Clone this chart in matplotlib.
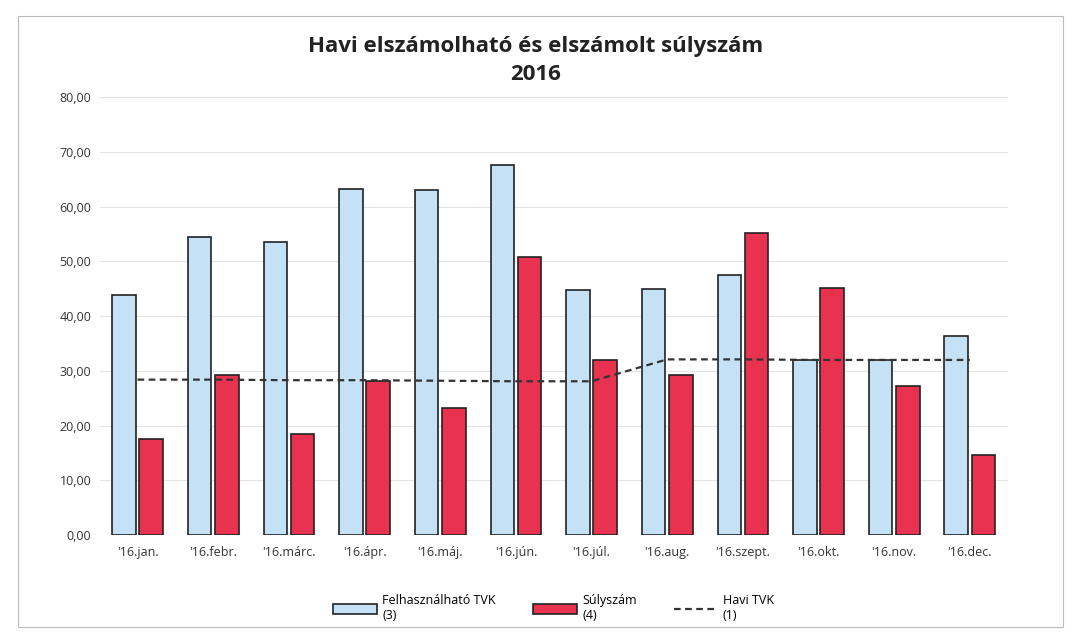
import matplotlib
matplotlib.use("Agg")
import matplotlib.pyplot as plt
import numpy as np
from matplotlib.patches import Rectangle

plt.rcParams['font.family'] = ['Open Sans', 'DejaVu Sans']

honapok = ["'16.jan.", "'16.febr.", "'16.márc.", "'16.ápr.", "'16.máj.", "'16.jún.",
           "'16.júl.", "'16.aug.", "'16.szept.", "'16.okt.", "'16.nov.", "'16.dec."]
felhasznalhato = [43.8, 54.5, 53.6, 63.3, 63.1, 67.7, 44.8, 45.0, 47.6, 32.0, 32.0, 36.3]
sulyszam = [17.6, 29.3, 18.5, 28.2, 23.3, 50.8, 32.0, 29.2, 55.2, 45.2, 27.3, 14.6]
havi_tvk = [28.4, 28.4, 28.3, 28.3, 28.2, 28.1, 28.1, 32.1, 32.1, 32.0, 32.0, 32.0]

fig = plt.figure(figsize=(10.72, 6.4), dpi=100)
ax = fig.add_axes([0.093, 0.164, 0.847, 0.684])

x = np.arange(len(honapok))
w = 0.31
b1 = ax.bar(x - 0.18, felhasznalhato, w, color='#c5e1f5', edgecolor='#222222', linewidth=1.2,
            label='Felhasználható TVK\n(3)', zorder=2)
b2 = ax.bar(x + 0.18, sulyszam, w, color='#e8324f', edgecolor='#222222', linewidth=1.2,
            label='Súlyszám\n(4)', zorder=2)
l1, = ax.plot(x, havi_tvk, color='#333333', linestyle=(0, (3, 2)), linewidth=1.6,
              label='Havi TVK\n(1)', zorder=3)

ax.set_xlim(-0.5, len(honapok) - 0.5)
ax.set_ylim(0, 80)
ax.set_yticks(np.arange(0, 81, 10))
ax.set_yticklabels([f"{v:.2f}".replace('.', ',') for v in np.arange(0, 81, 10)])
ax.set_xticks(x)
ax.set_xticklabels(honapok)
ax.tick_params(axis='both', length=0, labelsize=9, colors='#333333')
ax.tick_params(axis='y', pad=6)
ax.tick_params(axis='x', pad=8)
ax.grid(axis='y', color='#e4e4e4', linewidth=0.8, zorder=0)
for s in ax.spines.values():
    s.set_visible(False)

fig.text(0.5, 0.905, 'Havi elszámolható és elszámolt súlyszám\n2016', ha='center', va='center',
         fontsize=16, fontweight='bold', linespacing=1.45, color='#222222')

ax.legend(handles=[b1, b2, l1], loc='upper center', bbox_to_anchor=(0.5, -0.11), ncol=3,
          frameon=False, fontsize=9, handlelength=3.5, handleheight=0.9, columnspacing=3,
          handletextpad=0.4)

fig.patches.append(Rectangle((0.017, 0.02), 0.975, 0.955, transform=fig.transFigure,
                             fill=False, edgecolor='#bbbbbb', linewidth=0.8))

fig.savefig('out.png', dpi=100)
